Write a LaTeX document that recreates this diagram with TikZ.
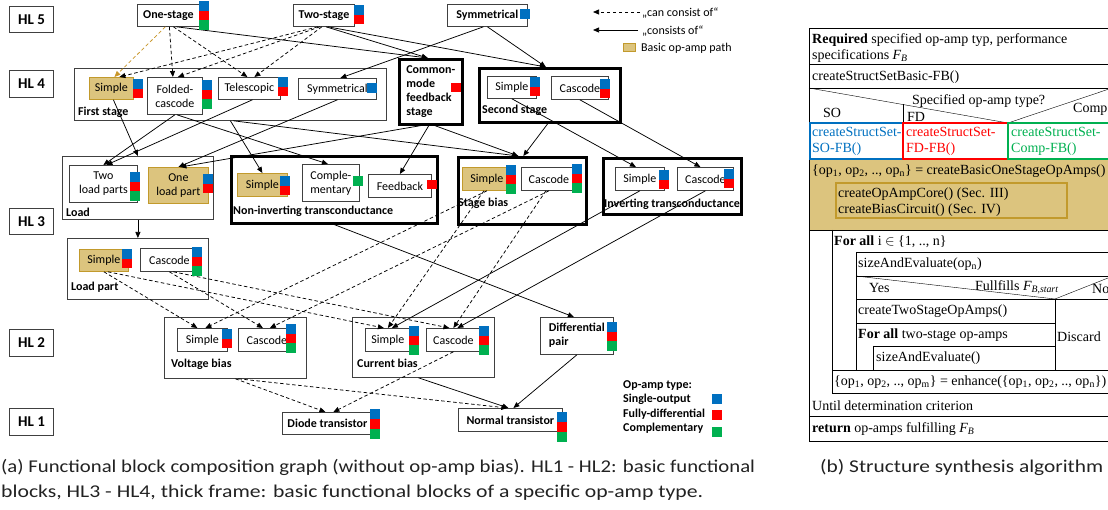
\documentclass[tikz,border=0pt]{standalone}
\usepackage{fontspec}
\setmainfont{Carlito}
\newfontfamily\algfont{Liberation Serif}
\usetikzlibrary{arrows.meta}
\definecolor{opblue}{HTML}{0070C0}
\definecolor{opred}{HTML}{FF0000}
\definecolor{opgreen}{HTML}{00B050}
\definecolor{edgegray}{HTML}{404040}
\definecolor{tanfill}{HTML}{DCC47E}
\definecolor{tanedge}{HTML}{C29A2C}
\definecolor{pathgold}{HTML}{C8962A}
\definecolor{captiongray}{HTML}{222222}
% op-amp type markers (top-left corner given)
\newcommand\tagB[2]{\fill[opblue] (#1,#2) rectangle ++(10,10);}
\newcommand\tagR[2]{\fill[opred] (#1,#2) rectangle ++(10,9.5);}
\newcommand\tagG[2]{\fill[opgreen] (#1,#2) rectangle ++(10,10);}
\newcommand\tagBR[2]{\tagB{#1}{#2}\tagR{#1}{#2+10}}
\newcommand\tagBRG[2]{\tagB{#1}{#2}\tagR{#1}{#2+10}\tagG{#1}{#2+19.5}}
% box given by its top-left corner, width and height
\newcommand\bx[7][box]{\node[#1,minimum width=#5pt,minimum height=#6pt,anchor=north west] (#2) at (#3,#4) {#7};}
\begin{document}
\begin{tikzpicture}[x=1pt,y=-1pt,
  box/.style={draw=edgegray,line width=0.8pt,fill=white,inner sep=0pt,align=center,font=\fontsize{12}{14}\selectfont},
  boldbox/.style={box,font=\bfseries\fontsize{12}{14}\selectfont},
  tanbox/.style={box,fill=tanfill,draw=tanedge},
  group/.style={draw=edgegray,line width=0.8pt,inner sep=0pt},
  heavy/.style={draw=black,line width=2.6pt,inner sep=0pt,align=left,font=\bfseries\fontsize{12}{14}\selectfont},
  grouplbl/.style={anchor=west,inner sep=0pt,font=\bfseries\fontsize{12}{13}\selectfont},
  level/.style={draw=edgegray,line width=1pt,inner sep=0pt,font=\bfseries\fontsize{15}{16}\selectfont},
  con/.style={line width=0.75pt,-{Triangle[length=6pt,width=5pt]}},
  can/.style={con,dash pattern=on 3.5pt off 2.5pt},
  legtxt/.style={anchor=west,inner sep=0pt,font=\fontsize{12}{13}\selectfont},
  alg/.style={anchor=west,inner sep=0pt,font=\algfont\fontsize{14}{16}\selectfont},
  captext/.style={anchor=base west,inner sep=0pt,text=captiongray,font=\fontsize{18}{20}\selectfont}]
\useasboundingbox (0,0) rectangle (1108,510);

% hierarchy levels
\bx[level]{hl5}{9}{6}{44}{26}{HL 5}
\bx[level]{hl4}{9}{70}{44}{27}{HL 4}
\bx[level]{hl3}{9}{208}{44}{26}{HL 3}
\bx[level]{hl2}{9}{329}{44}{27}{HL 2}
\bx[level]{hl1}{9}{408}{44}{27}{HL 1}

% group frames
\bx[group]{first}{74}{68}{312}{52}{}
\bx[heavy]{cmfb}{398}{58}{63}{65}{Common-\\mode\\feedback\\stage}
\bx[heavy]{second}{478}{67}{141}{54}{}
\bx[group]{load}{62}{156}{151}{63}{}
\bx[heavy]{noninv}{230}{155}{206}{67}{}
\bx[heavy]{stagebias}{457}{156}{128}{67}{}
\bx[heavy]{inv}{602}{157}{138}{56}{}
\bx[group]{loadpart}{67}{238}{141}{61}{}
\bx[group]{vbias}{164}{317}{142}{61}{}
\bx[group]{cbias}{352}{317}{142}{60}{}

% HL 5
\bx[boldbox]{one}{137}{4}{62}{22}{One-stage}
\bx[boldbox]{two}{293}{4}{61}{22}{Two-stage}
\bx[boldbox]{sym5}{447}{4}{80}{22}{Symmetrical}
% HL 4
\bx[tanbox]{fsS}{89}{77}{44}{22}{Simple}
\bx{fsF}{147}{77}{55}{37}{Folded-\\cascode}
\bx{fsT}{218}{77}{62}{22}{Telescopic}
\bx{fsY}{298}{78}{78}{21}{Symmetrical}
\bx{ssS}{487}{76}{49}{22}{Simple}
\bx{ssC}{551}{76}{57}{23}{Cascode}
% HL 3
\bx{twolp}{69}{165}{68}{37}{Two\\load parts}
\bx[tanbox]{onelp}{148}{167}{60}{36}{One\\load part}
\bx[tanbox]{niS}{237}{173}{50}{23}{Simple}
\bx{niC}{302}{164}{57}{37}{Comple-\\mentary}
\bx{niF}{368}{174}{63}{23}{Feedback}
\bx[tanbox]{sbS}{462}{167}{49}{23}{Simple}
\bx{sbC}{521}{167}{55}{23}{Cascode}
\bx{ivS}{615}{167}{49}{23}{Simple}
\bx{ivC}{677}{167}{56}{23}{Cascode}
\bx[tanbox]{lpS}{79}{249}{49}{22}{Simple}
\bx{lpC}{140}{248}{58}{23}{Cascode}
% HL 2
\bx{vbS}{177}{328}{50}{23}{Simple}
\bx{vbC}{238}{328}{57}{23}{Cascode}
\bx{cbS}{365}{328}{45}{23}{Simple}
\bx{cbC}{426}{328}{54}{23}{Cascode}
\bx[boldbox]{diff}{540}{317}{73}{37}{\begin{tabular}{@{}l@{}}Differential\\pair\end{tabular}}
% HL 1
\bx[boldbox]{diode}{282}{412}{90}{22}{Diode transistor}
\bx[boldbox]{normal}{458}{408}{104}{23}{Normal transistor}

% group labels
\node[grouplbl] (firstlbl) at (78,112) {First stage};
\node[grouplbl] (secondlbl) at (482,110) {Second stage};
\node[grouplbl] (loadlbl) at (66,212) {Load};
\node[grouplbl] (noninvlbl) at (233,211) {Non-inverting transconductance};
\node[grouplbl] (sblbl) at (458,203) {Stage bias};
\node[grouplbl] (invlbl) at (604,204) {Inverting transconductance};
\node[grouplbl] (lplbl) at (71,287) {Load part};
\node[grouplbl] (vblbl) at (171,364) {Voltage bias};
\node[grouplbl] (cblbl) at (357,363) {Current bias};

% HL 5 -> HL 4
\draw[can,pathgold] ([xshift=-3pt]one.south) -- ([xshift=3pt]fsS.north);
\draw[can] ([xshift=1pt]one.south) -- ([xshift=-2pt]fsF.north);
\draw[can] ([xshift=5pt]one.south) -- ([xshift=-2pt]fsT.north);
\draw[con] ([xshift=8pt]one.south) -- ([xshift=-3pt]cmfb.north);
\draw[can] ([xshift=-6pt]two.south) -- ([xshift=8pt]fsS.north);
\draw[can] ([xshift=-4pt]two.south) -- ([xshift=3pt]fsF.north);
\draw[can] ([xshift=-2pt]two.south) -- ([xshift=5pt]fsT.north);
\draw[con] ([xshift=2pt]two.south) -- ([xshift=-3pt]cmfb.north);
\draw[con] ([xshift=4pt]two.south) -- ([xshift=-4pt]second.north);
\draw[con] ([xshift=-4pt]sym5.south) -- ([xshift=3pt]fsY.north);
\draw[con] (sym5.south) -- ([xshift=-4pt]second.north);
% HL 4 -> HL 3
\draw[con] ([xshift=2pt]fsS.south) -- (load.north);
\draw[con] (fsF.south) -- (twolp.north);
\draw[con] ([xshift=3pt]fsT.south) -- ([xshift=3pt]twolp.north);
\draw[con] ([xshift=2pt]fsF.south) -- ([xshift=-3pt]niC.north);
\draw[con] (first.south) -- (niS.north);
\draw[con] ([xshift=3pt]first.south) -- ([xshift=-4pt]stagebias.north);
\draw[con] (fsY.south) -- (onelp.north);
\draw[con] ([xshift=-10pt]cmfb.south) -- ([xshift=2pt]onelp.north);
\draw[con] ([xshift=-2pt]cmfb.south) -- (niF.north);
\draw[con] ([xshift=4pt]cmfb.south) -- ([xshift=-4pt]stagebias.north);
\draw[con] ([xshift=-2pt]second.south) -- ([xshift=1pt]stagebias.north);
\draw[con] (ssS.south) -- ([xshift=-4pt]ivS.north);
\draw[con] (ssC.south) -- ([xshift=-5pt]ivC.north);
% HL 3 -> HL 2
\draw[con] (load.south) -- (loadpart.north);
\draw[can] (lpS.south) -- ([xshift=-5pt]vbS.north);
\draw[can] ([xshift=4pt]lpS.south) -- ([xshift=-4pt]cbS.north);
\draw[can] (lpC.south) -- ([xshift=-4pt]vbC.north);
\draw[can] ([xshift=4pt]lpC.south) -- ([xshift=-4pt]cbC.north);
\draw[can] (sbS.south) -- ([xshift=3pt]vbS.north);
\draw[can] ([xshift=-3pt]sbS.south) -- (cbS.north);
\draw[can] (sbC.south) -- ([xshift=3pt]vbC.north);
\draw[can] ([xshift=-3pt]sbC.south) -- (cbC.north);
\draw[con] (ivS.south) -- ([xshift=4pt]cbS.north);
\draw[con] (ivC.south) -- ([xshift=4pt]cbC.north);
\draw[con] (noninv.south) -- ([xshift=-3pt]diff.north);
% HL 2 -> HL 1
\draw[can] (vbias.south) -- ([xshift=-2pt]diode.north);
\draw[can] ([xshift=3pt]vbias.south) -- ([xshift=-3pt]normal.north);
\draw[can] (cbC.south) -- ([xshift=6pt]diode.north);
\draw[con] ([xshift=-5pt]cbias.south) -- ([xshift=-2pt]normal.north);
\draw[con] (diff.south) -- ([xshift=3pt]normal.north);

% op-amp type markers
\tagBRG{199}{1}
\tagBR{354}{5}
\tagB{520}{9}
\tagBR{133}{79}
\tagBRG{202}{80}
\tagBR{278}{77}
\tagB{367}{83}
\tagR{451}{83}
\tagBR{530}{77}
\tagBR{600}{79}
\tagBRG{130}{172}
\tagBR{203}{174}
\tagBR{280}{176}
\tagG{353}{176}
\tagR{427}{180}
\tagBRG{506}{165}
\tagBRG{572}{164}
\tagBR{659}{170}
\tagBR{724}{169}
\tagBR{122}{249}
\tagBRG{192}{247}
\tagBR{222}{329}
\tagBRG{286}{324}
\tagBRG{409}{326}
\tagBRG{479}{326}
\tagBRG{607}{322}
\tagBRG{370}{409}
\tagBRG{557}{412}

% legend
\coordinate (lgA) at (640,12);
\coordinate (lgB) at (593,12);
\coordinate (lgC) at (638,30);
\coordinate (lgD) at (593,30);
\draw[can] (lgA) -- (lgB);
\draw[con] (lgC) -- (lgD);
\node[legtxt] (lgcan) at (642,13) {„can consist of“};
\node[legtxt] (lgis) at (642,31) {„consists of“};
\draw[fill=tanfill,draw=tanedge,line width=1pt] (623,44) rectangle (635,52);
\node[legtxt] (lgpath) at (641,48) {Basic op-amp path};
\node[grouplbl] (ltype) at (623,386) {Op-amp type:};
\node[grouplbl] (lso) at (623,399) {Single-output};
\node[grouplbl] (lfd) at (623,414) {Fully-differential};
\node[grouplbl] (lcp) at (623,428) {Complementary};
\fill[opblue] (712,394) rectangle (722,404);
\fill[opred] (712,410) rectangle (722,420);
\fill[opgreen] (712,427) rectangle (722,437);

% structure synthesis algorithm (Nassi-Shneiderman chart)
\begin{scope}
\clip (790,0) rectangle (1108,450);
\fill[tanfill] (809,159) rectangle (1140,230);
\draw[line width=0.9pt] (809,28) rectangle (1140,441);
\draw (809,64) -- (1140,64);
\draw (809,88) -- (1140,88);
\draw (809,88) -- (1008,123) -- (1112,88);
\draw (903,104.5) -- (903,123);
\draw[opblue,line width=2pt] (810,123) rectangle (903,159);
\draw[opred,line width=2pt] (903,123) rectangle (1008,159);
\draw[opgreen,line width=2pt] (1008,123) rectangle (1140,159);
\draw[tanedge,line width=1.2pt] (836,183) rectangle (1067,218);
\draw (809,230) -- (1140,230);
\draw (832,230) -- (832,393) -- (1140,393);
\draw (856,252) -- (1140,252);
\draw (856,252) -- (856,370);
\draw (856,276) -- (1140,276);
\draw (856,276) -- (1055,299) -- (1113,276);
\draw (856,299) -- (1140,299);
\draw (1055,299) -- (1055,370);
\draw (856,323) -- (1055,323);
\draw (873,346) -- (1055,346);
\draw (873,346) -- (873,370);
\draw (832,370) -- (1140,370);
\draw (809,416) -- (1140,416);
\node[alg] (a1) at (812,40) {\textbf{Required} specified op-amp typ, performance};
\node[alg] (a2) at (812,56) {specifications {\itshape F}\textsubscript{\itshape B}};
\node[alg] (a3) at (812,77) {createStructSetBasic-FB()};
\node[alg] (a4) at (912,101) {Specified op-amp type?};
\node[alg] (a5) at (823,113) {SO};
\node[alg] (a6) at (907,117) {FD};
\node[alg] (a7) at (1073,109) {Comp};
\node[alg,text=opblue,align=left] (a8) at (812,141) {createStructSet-\\SO-FB()};
\node[alg,text=opred,align=left] (a9) at (906,141) {createStructSet-\\FD-FB()};
\node[alg,text=opgreen,align=left] (a10) at (1011,141) {createStructSet-\\Comp-FB()};
\node[alg] (a11) at (812,171) {\{op\textsubscript{1}, op\textsubscript{2}, .., op\textsubscript{n}\} = createBasicOneStageOpAmps()};
\node[alg] (a12) at (838,194) {createOpAmpCore() (Sec. III)};
\node[alg] (a13) at (838,210) {createBiasCircuit() (Sec. IV)};
\node[alg] (a14) at (834,242) {\textbf{For all} i $\in$ \{1, .., n\}};
\node[alg] (a15) at (858,264) {sizeAndEvaluate(op\textsubscript{n})};
\node[alg] (a16) at (869,288) {Yes};
\node[alg] (a17) at (975,287) {Fullfills {\itshape F}\textsubscript{\itshape B,start}};
\node[alg] (a18) at (1092,289) {No};
\node[alg] (a19) at (858,311) {createTwoStageOpAmps()};
\node[alg] (a20) at (858,335) {\textbf{For all} two-stage op-amps};
\node[alg] (a21) at (876,358) {sizeAndEvaluate()};
\node[alg] (a22) at (1057,337) {Discard};
\node[alg] (a23) at (834,382) {\{op\textsubscript{1}, op\textsubscript{2}, .., op\textsubscript{m}\} = enhance(\{op\textsubscript{1}, op\textsubscript{2}, .., op\textsubscript{n}\})};
\node[alg] (a24) at (812,406) {Until determination criterion};
\node[alg] (a25) at (812,429) {\textbf{return} op-amps fulfilling {\itshape F}\textsubscript{\itshape B}};
\end{scope}

% captions
\node[captext] (capa1) at (1,472) {\resizebox{754pt}{\height}{(a) Functional block composition graph (without op-amp bias). HL1 - HL2: basic functional}};
\node[captext] (capa2) at (1,497) {\resizebox{702pt}{\height}{blocks, HL3 - HL4, thick frame: basic functional blocks of a specific op-amp type.}};
\node[captext] (capb) at (820,472) {\resizebox{283pt}{\height}{(b) Structure synthesis algorithm}};
\end{tikzpicture}
\end{document}
